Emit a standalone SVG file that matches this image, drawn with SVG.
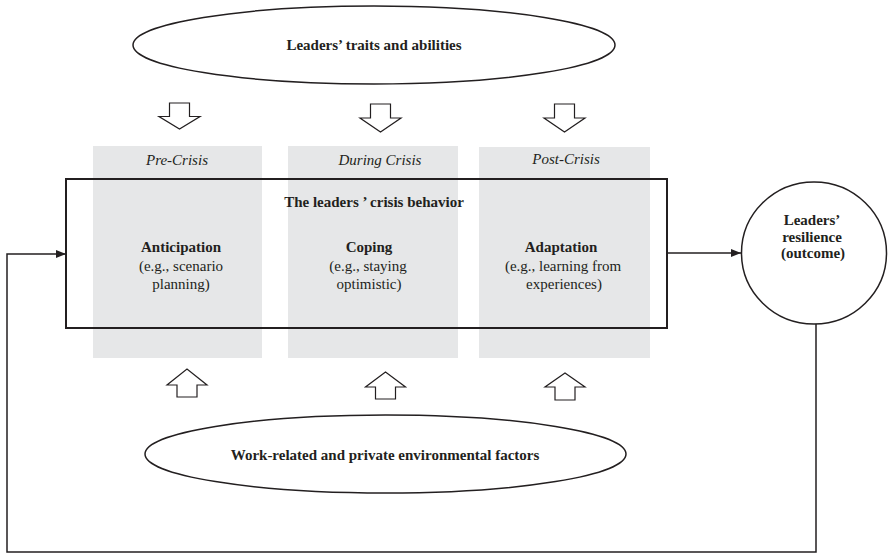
<svg xmlns="http://www.w3.org/2000/svg" width="889" height="555" viewBox="0 0 889 555">
<defs>
<style>
.t{font-family:"Liberation Serif","Times New Roman",serif;fill:#231f20;text-anchor:middle;font-size:15px}
.b{font-weight:bold}
.i{font-style:italic}
.panel{fill:#e6e7e8}
.shape{fill:none;stroke:#231f20;stroke-width:1.5}
.blk{fill:#fff;stroke:#231f20;stroke-width:1.2;stroke-linejoin:miter}
.con{fill:none;stroke:#231f20;stroke-width:1.5}
</style>
<marker id="ah" viewBox="0 0 10 8" refX="10" refY="4" markerWidth="10" markerHeight="8" markerUnits="userSpaceOnUse" orient="auto">
<path d="M0,0 L10,4 L0,8 z" fill="#231f20"/>
</marker>
</defs>
<rect width="889" height="555" fill="#fff"/>

<g id="panel-pre">
<rect class="panel" x="93" y="146" width="169" height="212"/>
<text class="t i" x="177" y="165">Pre-Crisis</text>
</g>
<g id="panel-during">
<rect class="panel" x="288" y="146" width="170" height="212"/>
<text class="t i" x="380" y="165">During Crisis</text>
</g>
<g id="panel-post">
<rect class="panel" x="479" y="147" width="171" height="211"/>
<text class="t i" x="566" y="164">Post-Crisis</text>
</g>

<g id="crisis-behavior">
<rect x="66" y="179" width="601" height="149" fill="none" stroke="#231f20" stroke-width="2"/>
<text class="t b" x="374" y="207">The leaders ’ crisis behavior</text>
</g>
<g id="anticipation">
<text class="t b" x="181" y="252">Anticipation</text>
<text class="t" x="181" y="271">(e.g., scenario</text>
<text class="t" x="181" y="289">planning)</text>
</g>
<g id="coping">
<text class="t b" x="369" y="252">Coping</text>
<text class="t" x="368" y="271">(e.g., staying</text>
<text class="t" x="369" y="289">optimistic)</text>
</g>
<g id="adaptation">
<text class="t b" x="561" y="252">Adaptation</text>
<text class="t" x="563" y="271">(e.g., learning from</text>
<text class="t" x="564" y="289">experiences)</text>
</g>

<g id="traits">
<ellipse class="shape" cx="374" cy="45" rx="241" ry="39"/>
<text class="t b" x="374" y="50">Leaders’ traits and abilities</text>
</g>

<g id="environment">
<ellipse class="shape" cx="385.5" cy="454" rx="240.5" ry="39"/>
<text class="t b" x="385" y="460">Work-related and private environmental factors</text>
</g>

<g id="resilience">
<ellipse class="shape" cx="814" cy="253" rx="72.5" ry="71"/>
<text class="t b" x="812" y="225">Leaders’</text>
<text class="t b" x="812" y="242">resilience</text>
<text class="t b" x="813" y="258">(outcome)</text>
</g>

<g id="block-arrows">
<polygon class="blk" points="169.5,103 189.5,103 189.5,116.5 200,116.5 179.5,129 159,116.5 169.5,116.5"/>
<polygon class="blk" points="370.5,104 390.5,104 390.5,118 401,118 380.5,132 360,118 370.5,118"/>
<polygon class="blk" points="554.5,104 574.5,104 574.5,118 585,118 564.5,132 544,118 554.5,118"/>
<polygon class="blk" points="177,397 197,397 197,385 207,385 187,369 167,385 177,385"/>
<polygon class="blk" points="375.5,399 395.5,399 395.5,387 405.5,387 385.5,372 365.5,387 375.5,387"/>
<polygon class="blk" points="555,400 575,400 575,387 585,387 565,373 545,387 555,387"/>
</g>

<g id="connectors">
<line class="con" x1="667" y1="253" x2="741" y2="253" marker-end="url(#ah)"/>
<polyline class="con" points="816,324 816,552 7,552 7,254 66,254" marker-end="url(#ah)"/>
</g>
</svg>
